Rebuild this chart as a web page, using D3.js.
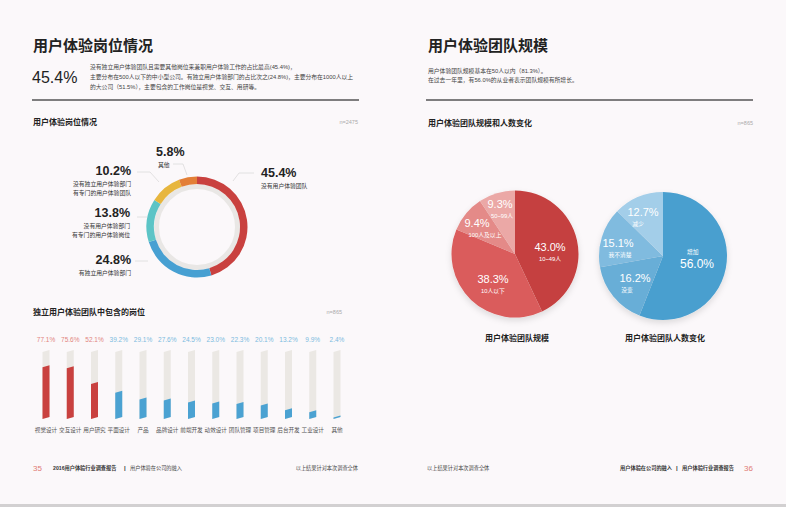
<!DOCTYPE html>
<html><head><meta charset="utf-8">
<script src="https://cdn.jsdelivr.net/npm/d3@7/dist/d3.min.js"></script>
<style>
html,body{margin:0;padding:0;background:#fbf8fa;}
svg{display:block;}
text{font-family:"Liberation Sans","Noto Sans CJK SC",sans-serif;}
</style></head><body>
<svg id="c" width="786" height="507"></svg>
<script>
// ---------- DATA ----------
const donutLabels = ["没有用户体验团队","有独立用户体验部门","没有用户体验部门\n有专门的用户体验岗位","没有独立用户体验部门\n有专门的用户体验团队","其他"];
const donutValues = [45.4, 24.8, 13.8, 10.2, 5.8];

const sizeLabels = ["10~49人","10人以下","100人及以上","50~99人"];
const sizeValues = [43.0, 38.3, 9.4, 9.3];

const changeLabels = ["增加","没变","我不清楚","减少"];
const changeValues = [56.0, 16.2, 15.1, 12.7];

const barCategories = ["视觉设计","交互设计","用户研究","平面设计","产品","品牌设计","前端开发","动效设计","团队管理","项目管理","后台开发","工业设计","其他"];
const barValues = [77.1, 75.6, 52.1, 39.2, 29.1, 27.6, 24.5, 23.0, 22.3, 20.1, 13.2, 9.9, 2.4];

// ---------- STYLES ----------
const cjk = '"Noto Sans CJK SC","Liberation Sans",sans-serif';
const num = '"Liberation Sans","Noto Sans CJK SC",sans-serif';
const svg = d3.select("#c");

svg.append("rect").attr("width",786).attr("height",507).attr("fill","#fbf8fa");
svg.append("rect").attr("x",0).attr("y",504).attr("width",786).attr("height",3).attr("fill","#d2d0d1");

function txt(x,y,s,o={}){
  return svg.append("text").attr("x",x).attr("y",y).text(s)
    .attr("font-family",o.f||cjk).attr("font-size",o.size||6)
    .attr("font-weight",o.w||400).attr("fill",o.c||"#333")
    .attr("text-anchor",o.a||"start").attr("dominant-baseline","central");
}

// ---------- LEFT PAGE HEADER ----------
txt(33,45,"用户体验岗位情况",{size:15,w:700,c:"#222"});
txt(32,77,"45.4%",{size:16,f:num,c:"#222"});
txt(90,67,"没有独立用户体验团队且需要其他岗位来兼职用户体验工作的占比最高(45.4%)，",{size:5.8,c:"#444"});
txt(90,77,"主要分布在500人以下的中小型公司。有独立用户体验部门的占比次之(24.8%)，主要分布在1000人以上",{size:5.8,c:"#444"});
txt(90,87,"的大公司（51.5%），主要包含的工作岗位是视觉、交互、用研等。",{size:5.8,c:"#444"});
svg.append("line").attr("x1",32).attr("x2",359).attr("y1",100).attr("y2",100).attr("stroke","#555").attr("stroke-width",1.6);

txt(33,122,"用户体验岗位情况",{size:8,w:700,c:"#222"});
txt(358,122,"n=2475",{size:5.5,c:"#aaa",a:"end",f:num});

// ---------- DONUT ----------
const donutColors = ["#c9413f","#47a0d2","#5cc4c6","#e7b63e","#e37f37"];
const dc = {x:197,y:227};
const dg = svg.append("g").attr("transform",`translate(${dc.x},${dc.y})`);
dg.append("circle").attr("r",40.5).attr("fill","none").attr("stroke","#e9e7e5").attr("stroke-width",5);
const donutPie = d3.pie().sort(null).value(d=>d);
const donutArc = d3.arc().innerRadius(43).outerRadius(50.5);
dg.selectAll("path.d").data(donutPie(donutValues)).join("path")
  .attr("d",donutArc).attr("fill",(d,i)=>donutColors[i]);

// donut labels (layout positions)
const donutLabelPos = [
  {x:261,y:173,a:"start",line:[[233,181],[239,173],[254,173]]},
  {x:131,y:260,a:"end",line:[[135,261],[148,261]]},
  {x:130,y:213,a:"end",line:[[137,217],[147,217]]},
  {x:131,y:171,a:"end",line:[[137,172],[150,172],[159,182]]},
  {x:156,y:152,a:"start",line:[[173,164],[183,164],[187,175]]}
];
donutValues.forEach((v,i)=>{
  const p = donutLabelPos[i];
  svg.append("path").attr("d",d3.line()(p.line)).attr("fill","none").attr("stroke","#dcdada").attr("stroke-width",0.8);
  txt(p.x,p.y,d3.format(".1f")(v)+"%",{size:12.5,f:num,w:600,c:"#222",a:p.a});
  const lines = donutLabels[i].split("\n");
  lines.forEach((s,k)=>txt(p.x + (i===4?2:0),p.y+13+k*8.5,s,{size:5.8,c:"#333",a:p.a}));
});

// ---------- BAR CHART ----------
txt(33,312,"独立用户体验团队中包含的岗位",{size:8,w:700,c:"#222"});
txt(342,312,"n=865",{size:5.5,c:"#aaa",a:"end",f:num});

const bx = d3.scalePoint().domain(barCategories).range([46,337]);
const by = d3.scaleLinear().domain([0,100]).range([417,350]);
const bw = 7, skew = 2;
function para(cx,v0,v1){
  const xl = cx-bw/2, xr = cx+bw/2;
  return `M${xl},${by(v0)+skew}L${xr},${by(v0)}L${xr},${by(v1)}L${xl},${by(v1)+skew}Z`;
}
const bg = svg.append("g");
barCategories.forEach((c,i)=>{
  const v = barValues[i];
  const hi = v>=50;
  bg.append("path").attr("d",para(bx(c),0,100)).attr("fill","#ebe8e4");
  bg.append("path").attr("d",para(bx(c),0,v)).attr("fill",hi?"#c9413f":"#4ba2d2");
  txt(bx(c),339,d3.format(".1f")(v)+"%",{size:6.5,f:num,c:hi?"#e2857f":"#7cbbe0",a:"middle"});
  txt(bx(c),430,c,{size:5.6,c:"#555",a:"middle"});
});

// ---------- LEFT FOOTER ----------
txt(33,468,"35",{size:8,f:num,c:"#e07b74"});
txt(53,468,"2016用户体验行业调查报告",{size:5.2,w:700,c:"#333"});
txt(124,468,"|",{size:6,w:700,c:"#333"});
txt(130,468,"用户体验在公司的融入",{size:5.2,c:"#444"});
txt(358,468,"以上结果针对本次调查全体",{size:5.2,c:"#444",a:"end"});

// ---------- RIGHT PAGE HEADER ----------
txt(428,45,"用户体验团队规模",{size:15,w:700,c:"#222"});
txt(428,71,"用户体验团队规模基本在50人以内（81.3%）。",{size:5.8,c:"#444"});
txt(428,80,"在过去一年里，有56.0%的从业者表示团队规模有所增长。",{size:5.8,c:"#444"});
svg.append("line").attr("x1",426).attr("x2",753).attr("y1",100).attr("y2",100).attr("stroke","#555").attr("stroke-width",1.6);
txt(428,123,"用户体验团队规模和人数变化",{size:8,w:700,c:"#222"});
txt(753,123,"n=865",{size:5.5,c:"#aaa",a:"end",f:num});

// ---------- PIES ----------
const defs = svg.append("defs");
const flt = defs.append("filter").attr("id","sh").attr("x","-20%").attr("y","-20%").attr("width","140%").attr("height","150%");
flt.append("feDropShadow").attr("dx",0).attr("dy",3).attr("stdDeviation",3).attr("flood-color","#000").attr("flood-opacity",0.12);

function drawPie(cx,cy,r,values,labels,colors,labelPos,title){
  const g = svg.append("g").attr("transform",`translate(${cx},${cy})`);
  const pie = d3.pie().sort(null).value(d=>d);
  const arc = d3.arc().innerRadius(0).outerRadius(r);
  g.append("g").attr("filter","url(#sh)").selectAll("path").data(pie(values)).join("path")
    .attr("d",arc).attr("fill",(d,i)=>colors[i]);
  values.forEach((v,i)=>{
    const p = labelPos[i];
    const pct = d3.format(".1f")(v)+"%";
    if(p.labelFirst){
      txt(p.x-10,p.y-12,labels[i],{size:5.8,c:"#fff"});
      txt(p.x,p.y,pct,{size:12,f:num,w:500,c:"#fff",a:"middle"});
    } else {
      txt(p.x,p.y,pct,{size:11,f:num,w:500,c:"#fff",a:"middle"});
      txt(p.x+(p.dx||0),p.y+12,labels[i],{size:5.8,c:"#fff",a:"middle"});
    }
  });
  txt(cx+2,338,title,{size:8,w:700,c:"#222",a:"middle"});
}
drawPie(515,254,63.5,sizeValues,sizeLabels,["#c5413f","#da5b5b","#e48a88","#eba8a6"],
  [{x:550,y:247},{x:493,y:279},{x:477,y:223,dx:8},{x:500,y:204,dx:2}],"用户体验团队规模");
drawPie(663,256,64,changeValues,changeLabels,["#4a9fcf","#68aed7","#80bbdf","#a3cee9"],
  [{x:697,y:264,labelFirst:true},{x:635,y:278,dx:-8},{x:618,y:243,dx:2},{x:643,y:212,dx:-5}],"用户体验团队人数变化");

// ---------- RIGHT FOOTER ----------
txt(427,468,"以上结果针对本次调查全体",{size:5.2,c:"#444"});
txt(672,468,"用户体验在公司的融入",{size:5.2,c:"#333",w:700,a:"end"});
txt(676,468,"|",{size:6,w:700,c:"#333"});
txt(734,468,"用户体验行业调查报告",{size:5.2,w:700,c:"#333",a:"end"});
txt(744,468,"36",{size:8,f:num,c:"#e07b74"});
</script>
</body></html>
